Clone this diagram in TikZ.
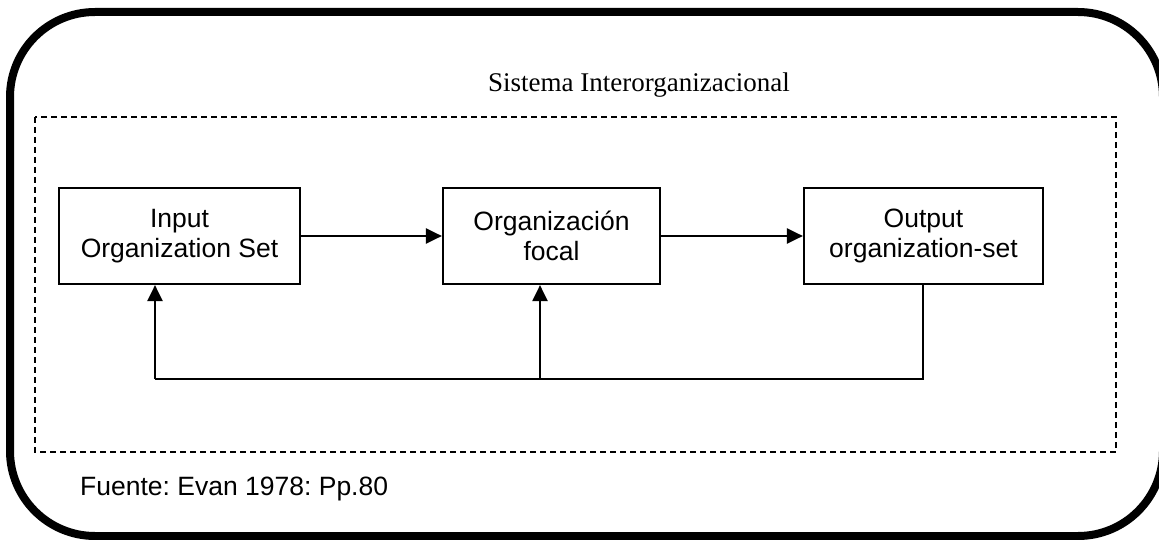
\documentclass[tikz,border=0pt]{standalone}
\usepackage{fontspec}
\setmainfont{Liberation Sans}
\newfontfamily\titlefont{Liberation Serif}
\usetikzlibrary{arrows.meta}
\frenchspacing
\begin{document}
\begin{tikzpicture}[x=1pt,y=-1pt,
  orgbox/.style={draw,line width=2.2pt,inner sep=0pt,align=center,
    minimum height=96pt,font=\fontsize{26.5}{30}\selectfont},
  conn/.style={line width=2.2pt},
  arr/.style={conn,-{Triangle[length=16pt,width=15pt]}}]
\useasboundingbox (0,0) rectangle (1159,540);
% outer frame
\draw[line width=8pt,rounded corners=85pt] (10,12) rectangle (1163,536);
% dashed system frame
\draw[line width=2.7pt,dash pattern=on 6pt off 4pt] (35,117) rectangle (1116,452);
\node[font=\titlefont\fontsize{27}{30}\selectfont,anchor=base] (title) at (639,92) {Sistema Interorganizacional};
% boxes
\node[orgbox,minimum width=241pt] (in) at (179.5,236) {Input\\Organization Set};
\node[orgbox,minimum width=217pt] (foc) at (551.5,236) {Organización\\focal};
\node[orgbox,minimum width=239pt] (out) at (923.5,236) {Output\\organization-set};
% forward arrows
\draw[arr] (in.east) -- (foc.west);
\draw[arr] (foc.east) -- (out.west);
% feedback
\coordinate (inb) at (155,284);
\coordinate (focb) at (540,284);
\coordinate (outb) at (923,284);
\coordinate (fbR) at (923,379);
\coordinate (fbM) at (540,379);
\coordinate (fbL) at (155,379);
\draw[conn] (out.south -| outb) -- (fbR) -- (fbL);
\draw[arr] (fbL) -- (in.south -| inb);
\draw[arr] (fbM) -- (foc.south -| focb);
% source
\node[anchor=base west,font=\fontsize{26.5}{30}\selectfont,inner sep=0pt] (src) at (80,495) {Fuente: Evan 1978: Pp.80};
\end{tikzpicture}
\end{document}
